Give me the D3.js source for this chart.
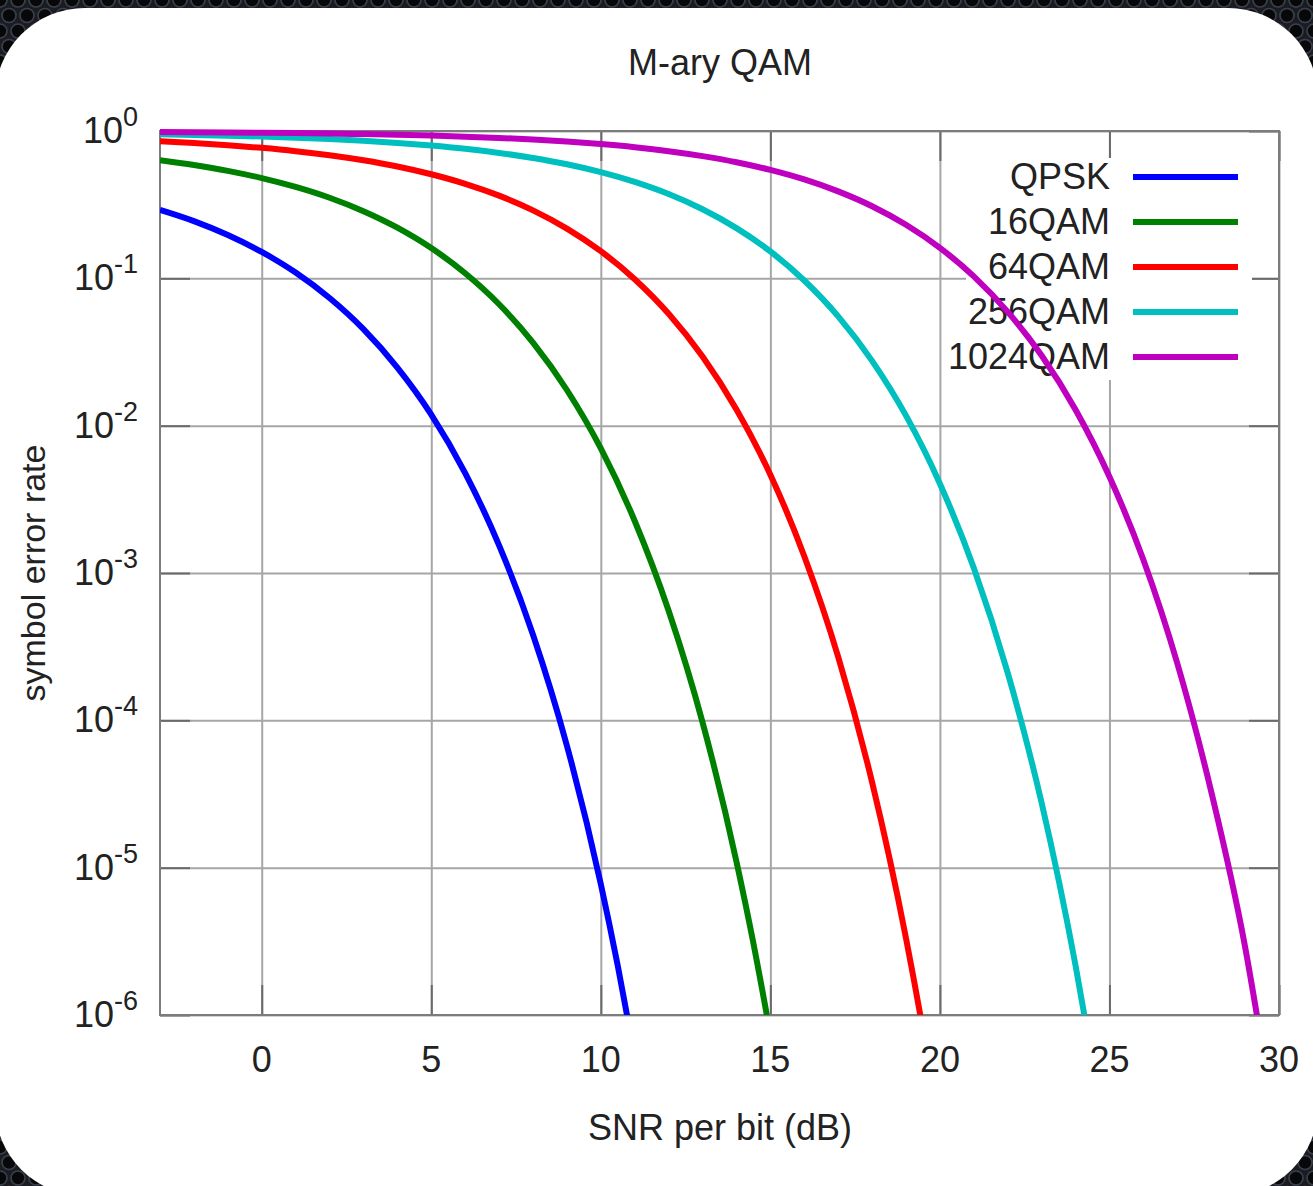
<!DOCTYPE html>
<meta charset="utf-8">
<script src="https://d3js.org/d3.v7.min.js" charset="utf-8"></script>
<style>
  body { margin: 0; background: #121215; }
  svg { display: block; }
</style>
<div id="viz"></div>
<script>
// tick labels
var xTicks = [0, 5, 10, 15, 20, 25, 30];
var yExponents = [0, -1, -2, -3, -4, -5, -6];

// series names (legend order)
var seriesNames = ["QPSK", "16QAM", "64QAM", "256QAM", "1024QAM"];

// SNR per bit (dB) and symbol error rate
var snrQPSK = [-3, -2, -1, 0, 1, 2, 3, 4, 5, 6, 7, 8, 9, 10, 10.5, 11];
var serQPSK = [0.2917, 0.2447, 0.1968, 0.1510, 0.1094, 0.0735, 0.0452, 0.0248, 0.0119, 0.00477, 0.00154, 3.81e-4, 6.73e-5, 7.74e-6, 2.16e-6, 5.23e-7];

var snr16 = [-3, -2, -1, 0, 1, 2, 3, 4, 5, 6, 7, 8, 9, 10, 11, 12, 13, 14, 14.5, 15];
var ser16 = [0.634, 0.588, 0.5365, 0.4793, 0.4175, 0.3525, 0.2856, 0.2207, 0.1606, 0.1083, 0.0667, 0.0366, 0.01746, 0.00701, 0.002255, 5.54e-4, 9.69e-5, 1.10e-5, 3.07e-6, 7.36e-7];

var snr64 = [-3, -2, -1, 0, 1, 2, 3, 4, 5, 6, 7, 8, 9, 10, 11, 12, 13, 14, 15, 16, 17, 18, 19, 19.5, 20];
var ser64 = [0.8534, 0.8295, 0.8016, 0.7685, 0.7298, 0.6846, 0.6326, 0.5741, 0.5087, 0.4381, 0.3640, 0.2894, 0.2177, 0.1529, 0.0987, 0.0575, 0.02946, 0.01288, 0.00465, 0.0013, 2.70e-4, 3.80e-5, 3.32e-6, 7.9e-7, 1.6e-7];

var snr256 = [-3, -2, -1, 0, 1, 2, 3, 4, 5, 6, 7, 8, 9, 10, 11, 12, 13, 14, 15, 16, 17, 18, 19, 20, 21, 22, 23, 24, 24.5];
var ser256 = [0.9499, 0.9409, 0.9300, 0.9168, 0.9008, 0.8815, 0.8580, 0.8299, 0.7963, 0.7568, 0.7100, 0.6560, 0.5945, 0.5257, 0.4511, 0.3732, 0.2943, 0.2193, 0.1523, 0.0967, 0.0552, 0.02755, 0.01169, 0.00404, 0.00108, 2.10e-4, 2.75e-5, 2.17e-6, 4.87e-7];

var snr1024 = [-3, -2, -1, 0, 1, 2, 3, 4, 5, 6, 7, 8, 9, 10, 11, 12, 13, 14, 15, 16, 17, 18, 19, 20, 21, 22, 23, 24, 25, 26, 27, 28, 29, 29.5, 30];
var ser1024 = [0.9845, 0.9815, 0.9779, 0.9734, 0.9680, 0.9614, 0.9531, 0.9431, 0.9308, 0.9157, 0.8973, 0.8748, 0.8477, 0.8148, 0.7757, 0.7295, 0.6754, 0.6139, 0.5445, 0.4689, 0.3890, 0.3084, 0.2309, 0.1611, 0.1031, 0.0592, 0.02993, 0.01282, 0.0045, 0.00123, 2.44e-4, 3.29e-5, 2.9e-6, 6.16e-7, 1.2e-7];

var colors = ["#0000ff", "#008000", "#ff0000", "#00bfbf", "#bf00bf"];

var series = [
  {name: seriesNames[0], x: snrQPSK, y: serQPSK},
  {name: seriesNames[1], x: snr16, y: ser16},
  {name: seriesNames[2], x: snr64, y: ser64},
  {name: seriesNames[3], x: snr256, y: ser256},
  {name: seriesNames[4], x: snr1024, y: ser1024}
];

var W = 1313, H = 1186;
var margin = {top: 131, right: 34, bottom: 171, left: 160},
    width = W - margin.left - margin.right,
    height = H - margin.top - margin.bottom;

var font = "'Liberation Sans', Arial, Helvetica, sans-serif";

var root = d3.select("#viz")
  .append("svg")
    .attr("width", W)
    .attr("height", H);

// dark perforated backdrop
var defs = root.append("defs");
var pat = defs.append("pattern")
    .attr("id", "holes")
    .attr("patternUnits", "userSpaceOnUse")
    .attr("width", 18)
    .attr("height", 31);
pat.append("rect").attr("width", 18).attr("height", 31).attr("fill", "#1a1c21");
[[0, 0], [18, 0], [9, 15.5], [0, 31], [18, 31]].forEach(function(c) {
  pat.append("circle")
    .attr("cx", c[0]).attr("cy", c[1]).attr("r", 7)
    .attr("fill", "#08080a")
    .attr("stroke", "#3a414c")
    .attr("stroke-width", 1.6);
});
root.append("rect").attr("width", W).attr("height", H).attr("fill", "url(#holes)");

// white card
root.append("rect")
    .attr("x", -5).attr("y", 8)
    .attr("width", W + 10).attr("height", H + 2)
    .attr("rx", 90).attr("ry", 90)
    .attr("fill", "#ffffff");

// clip curves at the bottom/right border
defs.append("clipPath").attr("id", "plotclip")
  .append("rect")
    .attr("x", 0).attr("y", -12)
    .attr("width", width + 6).attr("height", height + 12);

var svg = root.append("g")
    .attr("transform", "translate(" + margin.left + "," + margin.top + ")");

// scales
var x = d3.scaleLinear().domain([-3, 30]).range([0, width]);
var y = d3.scaleLog().domain([1e-6, 1]).range([height, 0]);
var yTicks = yExponents.map(function(e) { return Math.pow(10, e); });

// grid
svg.append("g")
    .attr("class", "grid")
    .call(d3.axisLeft(y).tickValues(yTicks).tickSize(-width).tickFormat(""));
svg.append("g")
    .attr("class", "grid")
    .attr("transform", "translate(0," + height + ")")
    .call(d3.axisBottom(x).tickValues(xTicks).tickSize(-height).tickFormat(""));
svg.selectAll(".grid .domain").remove();
svg.selectAll(".grid line")
    .attr("stroke", "#a6a6a6")
    .attr("stroke-width", 2);

// short dark ticks on all four sides
var tk = 30;
[
  {axis: d3.axisLeft(y).tickValues(yTicks), t: "translate(0,0)"},
  {axis: d3.axisRight(y).tickValues(yTicks), t: "translate(" + width + ",0)"},
  {axis: d3.axisBottom(x).tickValues(xTicks), t: "translate(0," + height + ")"},
  {axis: d3.axisTop(x).tickValues(xTicks), t: "translate(0,0)"}
].forEach(function(a) {
  var g = svg.append("g")
      .attr("class", "ticks")
      .attr("transform", a.t)
      .call(a.axis.tickSize(-tk).tickFormat(""));
  g.select(".domain").remove();
  g.selectAll("line").attr("stroke", "#6a6a6a").attr("stroke-width", 2);
});

// border
svg.append("rect")
    .attr("width", width).attr("height", height)
    .attr("fill", "none")
    .attr("stroke", "#7c7c7c")
    .attr("stroke-width", 2);

// x tick labels
svg.append("g")
  .selectAll("text")
  .data(xTicks)
  .enter()
  .append("text")
    .attr("x", function(d) { return x(d); })
    .attr("y", height + 57)
    .attr("text-anchor", "middle")
    .attr("font-family", font)
    .attr("font-size", 36)
    .attr("fill", "#222")
    .text(function(d) { return d; });

// y tick labels with superscript exponent
var ylab = svg.append("g")
  .selectAll("text")
  .data(yExponents)
  .enter()
  .append("text")
    .attr("x", -22)
    .attr("y", function(d) { return y(Math.pow(10, d)) + 12; })
    .attr("text-anchor", "end")
    .attr("font-family", font)
    .attr("font-size", 36)
    .attr("fill", "#222");
ylab.append("tspan").text("10");
ylab.append("tspan")
    .attr("font-size", 27)
    .attr("dy", -17)
    .text(function(d) { return d; });

// legend background (hides grid behind it)
var legendTop = 177, legendStep = 45;
svg.append("rect")
    .attr("x", 966 - margin.left)
    .attr("y", 158 - margin.top)
    .attr("width", 1252 - 966)
    .attr("height", 380 - 158)
    .attr("fill", "#ffffff");

var legend = svg.append("g")
  .selectAll("g")
  .data(series)
  .enter()
  .append("g")
    .attr("transform", function(d, i) {
      return "translate(0," + (legendTop + i * legendStep - margin.top) + ")";
    });
legend.append("text")
    .attr("x", 1110 - margin.left)
    .attr("y", 12)
    .attr("text-anchor", "end")
    .attr("font-family", font)
    .attr("font-size", 36)
    .attr("fill", "#222")
    .text(function(d) { return d.name; });
legend.append("line")
    .attr("x1", 1133 - margin.left)
    .attr("x2", 1238 - margin.left)
    .attr("stroke", function(d, i) { return colors[i]; })
    .attr("stroke-width", 6);

// curves
var line = d3.line()
    .x(function(d) { return x(d[0]); })
    .y(function(d) { return y(d[1]); })
    .curve(d3.curveMonotoneX);

svg.append("g")
    .attr("clip-path", "url(#plotclip)")
  .selectAll("path")
  .data(series)
  .enter()
  .append("path")
    .attr("fill", "none")
    .attr("stroke", function(d, i) { return colors[i]; })
    .attr("stroke-width", 6)
    .attr("stroke-linejoin", "round")
    .attr("d", function(d) { return line(d.x.map(function(v, i) { return [v, d.y[i]]; })); });

// title and axis labels
root.append("text")
    .attr("x", 720)
    .attr("y", 75)
    .attr("text-anchor", "middle")
    .attr("font-family", font)
    .attr("font-size", 36)
    .attr("fill", "#222")
    .text("M-ary QAM");

root.append("text")
    .attr("x", 720)
    .attr("y", 1140)
    .attr("text-anchor", "middle")
    .attr("font-family", font)
    .attr("font-size", 36)
    .attr("fill", "#222")
    .text("SNR per bit (dB)");

root.append("text")
    .attr("transform", "translate(45," + (margin.top + height / 2) + ") rotate(-90)")
    .attr("text-anchor", "middle")
    .attr("font-family", font)
    .attr("font-size", 34)
    .attr("fill", "#222")
    .text("symbol error rate");
</script>
